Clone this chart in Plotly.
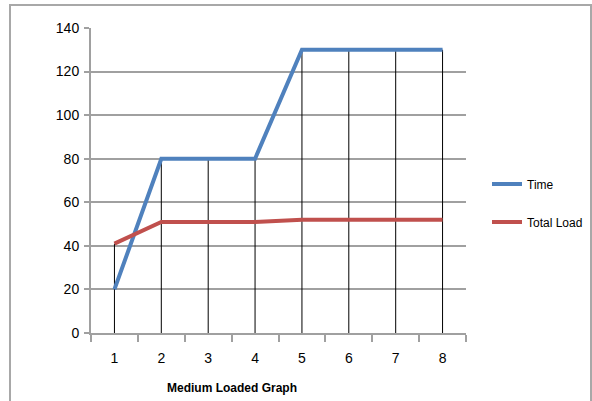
import plotly.graph_objects as go

categories = [1, 2, 3, 4, 5, 6, 7, 8]
time_vals = [20, 80, 80, 80, 130, 130, 130, 130]
load_vals = [41, 51, 51, 51, 52, 52, 52, 52]
y_ticks = [0, 20, 40, 60, 80, 100, 120, 140]

FONT = "Liberation Sans, Arial, sans-serif"

# drop lines from highest point to the axis
dx, dy = [], []
for c, t, l in zip(categories, time_vals, load_vals):
    dx += [c, c, None]
    dy += [max(t, l), 0, None]

fig = go.Figure()
fig.add_trace(go.Scatter(x=dx, y=dy, mode="lines", line=dict(color="#000000", width=1),
                         showlegend=False, hoverinfo="skip"))
fig.add_trace(go.Scatter(x=categories, y=time_vals, mode="lines", name="Time", legendgroup="a",
                         line=dict(color="#4F81BD", width=4)))
fig.add_trace(go.Scatter(x=categories, y=load_vals, mode="lines", name="Total Load", legendgroup="b",
                         line=dict(color="#C0504D", width=4)))

fig.update_layout(
    width=592, height=401,
    margin=dict(l=91, r=126, t=28, b=68, autoexpand=False),
    paper_bgcolor="white", plot_bgcolor="white",
    font=dict(family=FONT, size=14, color="#000000"),
    legend=dict(x=(487 - 91) / 375, y=(333 - 203) / 305, xanchor="left", yanchor="middle",
                font=dict(family=FONT, size=12), itemwidth=30, traceorder="grouped",
                tracegroupgap=19, bgcolor="rgba(0,0,0,0)"),
    xaxis=dict(range=[0.5, 8.5], tickvals=categories, ticktext=[str(c) for c in categories],
               showgrid=False, zeroline=False, showline=True, linecolor="#A0A0A0", linewidth=2,
               ticks="", ticklabelstandoff=11,
               minor=dict(tick0=0.5, dtick=1, ticks="outside", ticklen=7, tickcolor="#A0A0A0",
                          tickwidth=2, showgrid=False)),
    yaxis=dict(range=[0, 140], tickvals=y_ticks, showgrid=True, gridcolor="#A0A0A0", gridwidth=2,
               zeroline=False, showline=True, linecolor="#A0A0A0", linewidth=2,
               ticks="outside", ticklen=5, tickcolor="#A0A0A0", tickwidth=2, ticklabelstandoff=2),
    showlegend=True,
)

fig.add_annotation(text="<b>Medium Loaded Graph</b>", xref="paper", yref="paper",
                   x=(232 - 91) / 375, y=-(388 - 333) / 305, xanchor="center", yanchor="middle",
                   showarrow=False, font=dict(family=FONT, size=12, color="#000000"))

# outer chart frame
fig.add_shape(type="rect", xref="paper", yref="paper",
              x0=(10 - 91) / 375, x1=(591 - 91) / 375, y0=-0.4, y1=(333 - 5) / 305,
              line=dict(color="#A8A8A8", width=2), layer="below")

fig.write_html("out.html")
